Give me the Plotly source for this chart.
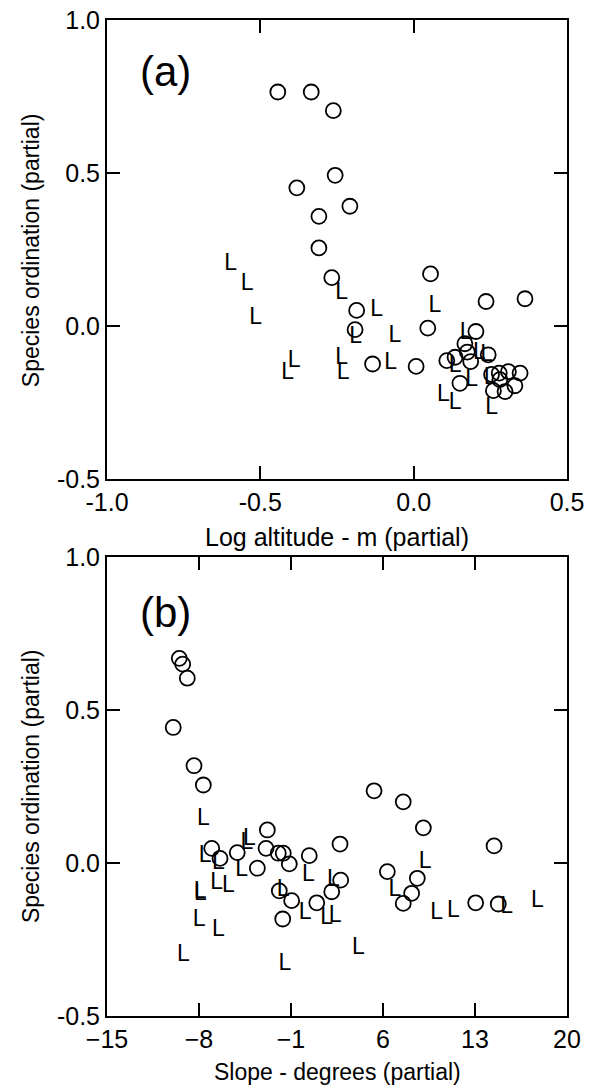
import plotly.graph_objects as go
from plotly.subplots import make_subplots

# Panel (a): Log altitude (partial) vs species ordination (partial)
alt_circ_x = [-0.443, -0.334, -0.262, -0.256, -0.381, -0.208, -0.309, -0.309, -0.267, -0.186,
              -0.191, -0.134, 0.055, 0.236, 0.363, 0.046, 0.008, 0.203, 0.167, 0.175,
              0.243, 0.108, 0.135, 0.186, 0.151, 0.254, 0.279, 0.309, 0.347, 0.330,
              0.298, 0.260, 0.281]
alt_circ_y = [0.765, 0.765, 0.704, 0.493, 0.452, 0.392, 0.359, 0.256, 0.159, 0.052,
              -0.011, -0.123, 0.171, 0.081, 0.090, -0.006, -0.131, -0.017, -0.057, -0.084,
              -0.093, -0.112, -0.101, -0.115, -0.186, -0.157, -0.153, -0.148, -0.153, -0.194,
              -0.213, -0.210, -0.174]
alt_L_x = [-0.597, -0.543, -0.235, -0.515, -0.121, -0.189, -0.061, -0.390, -0.411, -0.235,
           -0.230, -0.075, 0.069, 0.171, 0.214, 0.238, 0.135, 0.189, 0.249, 0.097,
           0.135, 0.254]
alt_L_y = [0.201, 0.136, 0.109, 0.027, 0.054, -0.037, -0.033, -0.115, -0.153, -0.104,
           -0.153, -0.120, 0.065, -0.022, -0.088, -0.093, -0.131, -0.175, -0.169, -0.224,
           -0.251, -0.267]

# Panel (b): Slope (partial) vs species ordination (partial)
slope_circ_x = [-9.50, -9.24, -8.89, -9.96, -8.38, -7.67, -7.03, -6.40, -5.09, -3.56,
                -2.80, -2.90, -1.97, -1.59, -1.13, 0.39, 2.73, 2.78, 2.10, 0.96,
                -0.95, -1.89, -1.63, 5.32, 7.54, 9.07, 6.33, 8.61, 8.18, 7.54,
                13.05, 14.77, 14.45]
slope_circ_y = [0.669, 0.650, 0.604, 0.443, 0.318, 0.255, 0.048, 0.015, 0.034, -0.017,
                0.108, 0.048, 0.032, 0.032, -0.003, 0.024, 0.062, -0.056, -0.094, -0.130,
                -0.123, -0.091, -0.183, 0.236, 0.200, 0.115, -0.028, -0.050, -0.099, -0.132,
                -0.130, -0.134, 0.056]
slope_L_x = [-7.67, -4.16, -4.35, -7.54, -6.53, -4.75, 0.32, -6.65, -5.77, -7.92,
             -7.90, -1.59, 2.22, 0.07, 1.72, 2.35, -7.98, -6.53, -9.19, -1.46,
             4.12, 9.20, 6.91, 10.09, 11.35, 15.41, 17.74]
slope_L_y = [0.144, 0.078, 0.065, 0.021, -0.001, -0.023, -0.039, -0.066, -0.077, -0.097,
             -0.101, -0.088, -0.056, -0.164, -0.181, -0.175, -0.186, -0.219, -0.301, -0.330,
             -0.279, 0.004, -0.088, -0.164, -0.159, -0.143, -0.126]

alt_ticks = [-1.0, -0.5, 0.0, 0.5]
alt_ticktext = ["-1.0", "-0.5", "0.0", "0.5"]
slope_ticks = [-15, -8, -1, 6, 13, 20]
y_ticks = [-0.5, 0.0, 0.5, 1.0]
y_ticktext = ["-0.5", "0.0", "0.5", "1.0"]

FONT = "Liberation Sans, Arial, Helvetica, sans-serif"

fig = make_subplots(rows=2, cols=1, vertical_spacing=0.0774)

circ_marker = dict(symbol="circle-open", size=15, color="black", line=dict(width=1.8, color="black"))
Lfont = dict(family=FONT, size=23, color="black")

fig.add_trace(go.Scatter(x=alt_circ_x, y=alt_circ_y, mode="markers", marker=circ_marker,
                         showlegend=False, hoverinfo="skip"), row=1, col=1)
fig.add_trace(go.Scatter(x=alt_L_x, y=alt_L_y, mode="text", text=["L"] * len(alt_L_x),
                         textposition="middle center", textfont=Lfont,
                         showlegend=False, hoverinfo="skip"), row=1, col=1)
fig.add_trace(go.Scatter(x=slope_circ_x, y=slope_circ_y, mode="markers", marker=circ_marker,
                         showlegend=False, hoverinfo="skip"), row=2, col=1)
fig.add_trace(go.Scatter(x=slope_L_x, y=slope_L_y, mode="text", text=["L"] * len(slope_L_x),
                         textposition="middle center", textfont=Lfont,
                         showlegend=False, hoverinfo="skip"), row=2, col=1)

axis_common = dict(showgrid=False, zeroline=False, showline=True, linecolor="black", linewidth=2,
                   mirror="ticks", ticks="inside", ticklen=13, tickwidth=2, tickcolor="black",
                   automargin=False, ticklabeloverflow="allow",
                   tickfont=dict(family=FONT, size=25, color="black"))

fig.update_xaxes(range=[-1.0, 0.5], tickvals=alt_ticks, ticktext=alt_ticktext,
                 domain=[0, 1], **axis_common, row=1, col=1)
fig.update_xaxes(range=[-15, 20], tickvals=slope_ticks,
                 domain=[0, 1], **axis_common, row=2, col=1)
fig.update_yaxes(range=[-0.5, 1.0], tickvals=y_ticks, ticktext=y_ticktext,
                 domain=[0.5387, 1.0], **axis_common, row=1, col=1)
fig.update_yaxes(range=[-0.5, 1.0], tickvals=y_ticks, ticktext=y_ticktext,
                 domain=[0.0, 0.4608], **axis_common, row=2, col=1)

title_font = dict(family=FONT, size=23, color="black")
# axis titles
fig.add_annotation(text="Log altitude - m (partial)", x=0.5, y=0.481, xref="paper", yref="paper",
                   showarrow=False, xanchor="center", yanchor="middle",
                   font=dict(family=FONT, size=25, color="black"))
fig.add_annotation(text="Slope - degrees (partial)", x=0.5, y=-0.0562, xref="paper", yref="paper",
                   showarrow=False, xanchor="center", yanchor="middle", font=title_font)
fig.add_annotation(text="Species ordination (partial)", x=-0.165, y=0.769, xref="paper", yref="paper",
                   showarrow=False, xanchor="center", yanchor="middle", textangle=-90, font=title_font)
fig.add_annotation(text="Species ordination (partial)", x=-0.165, y=0.2309, xref="paper", yref="paper",
                   showarrow=False, xanchor="center", yanchor="middle", textangle=-90, font=title_font)

fig.add_annotation(text="(a)", x=0.128, y=0.948, xref="paper", yref="paper", showarrow=False,
                   xanchor="center", yanchor="middle",
                   font=dict(family=FONT, size=42, color="black"))
fig.add_annotation(text="(b)", x=0.128, y=0.4056, xref="paper", yref="paper", showarrow=False,
                   xanchor="center", yanchor="middle",
                   font=dict(family=FONT, size=42, color="black"))

# the page body adds an 8px offset; margins compensate so the plot areas land where the reference has them
fig.update_layout(width=593, height=1089, margin=dict(l=99, r=34, t=12, b=81, autoexpand=False),
                  plot_bgcolor="white", paper_bgcolor="white",
                  font=dict(family=FONT, color="black"))

fig.write_html("out.html", config={"displayModeBar": False})
